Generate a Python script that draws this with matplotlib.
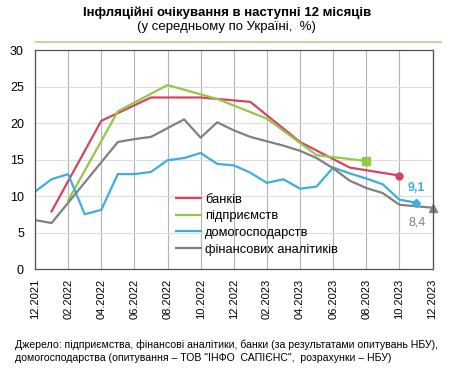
import numpy as np
import matplotlib
matplotlib.use('Agg')
import matplotlib.pyplot as plt
from matplotlib.lines import Line2D

plt.rcParams['font.family'] = ['Liberation Sans', 'DejaVu Sans']

# months counted from 12.2021 (0) to 12.2023 (24)
tick_pos = list(range(0, 25, 2))
tick_labels = ['12.2021', '02.2022', '04.2022', '06.2022', '08.2022', '10.2022', '12.2022',
               '02.2023', '04.2023', '06.2023', '08.2023', '10.2023', '12.2023']

banks_m = [1, 4, 7, 10, 13, 16, 19, 22]
banks = [7.9, 20.3, 23.5, 23.5, 22.9, 17.4, 13.9, 12.8]

firms_m = [2, 5, 8, 11, 14, 17, 20]
firms = [9.4, 21.6, 25.2, 23.3, 20.6, 15.6, 14.8]

house_m = list(range(0, 24))
house = [10.6, 12.3, 13.0, 7.5, 8.1, 13.0, 13.0, 13.3, 14.9, 15.2, 15.9, 14.4,
         14.2, 13.2, 11.8, 12.3, 11.0, 11.3, 13.9, 13.1, 12.4, 11.6, 9.5, 9.1]

anal_m = [0, 1] + list(range(5, 25))
anal = [6.7, 6.3, 17.4, 17.8, 18.1, 19.3, 20.5, 18.0, 20.1, 19.0, 18.1, 17.5,
        16.9, 16.2, 15.2, 13.8, 12.1, 11.1, 10.4, 8.8, 8.6, 8.4]

c_red = '#d6455f'
c_green = '#92c84c'
c_blue = '#3eaede'
c_gray = '#808080'

fig = plt.figure(figsize=(4.59, 3.68), dpi=100)
ax = fig.add_axes([0.0763, 0.269, 0.866, 0.595])

lw = 1.6
ax.plot(banks_m, banks, color=c_red, lw=lw, label='банків')
ax.plot(firms_m, firms, color=c_green, lw=lw, label='підприємств')
ax.plot(house_m, house, color=c_blue, lw=lw, label='домогосподарств')
ax.plot(anal_m, anal, color=c_gray, lw=lw, label='фінансових аналітиків')

ax.plot(banks_m[-1], banks[-1], 'o', color=c_red, ms=5)
ax.plot(firms_m[-1], firms[-1], 's', color=c_green, ms=6)
ax.plot(house_m[-1], house[-1], 'D', color=c_blue, ms=4)
ax.plot(anal_m[-1], anal[-1], '^', color=c_gray, ms=6, clip_on=False)

ax.annotate('9,1', (house_m[-1], house[-1]), xytext=(0, 10.5), textcoords='offset points',
            ha='center', va='center', color=c_blue, fontsize=9, fontweight='bold')
ax.annotate('8,4', (anal_m[-1], anal[-1]), xytext=(-11, -11), textcoords='offset points',
            ha='center', va='center', color=c_gray, fontsize=9)

ax.set_xlim(0, 24)
ax.set_ylim(0, 30)
ax.set_yticks(range(0, 31, 5))
ax.set_xticks(tick_pos)
ax.set_xticklabels(tick_labels, rotation=90)
ax.tick_params(axis='x', length=0, pad=7, labelsize=8)
ax.tick_params(axis='y', length=0, pad=8, labelsize=9)

for x in tick_pos:
    ax.axvline(x, color='#b3b3b3', lw=0.8, zorder=0)
for y in range(5, 30, 5):
    ax.axhline(y, color='#dcdcdc', lw=0.8, zorder=0)
for s in ax.spines.values():
    s.set_color('#505050')
    s.set_linewidth(0.9)

ax.legend(loc='upper left', bbox_to_anchor=(0.355, 0.345), frameon=False, fontsize=9.3,
          handlelength=1.95, handletextpad=0.3, labelspacing=0.36, borderpad=0, borderaxespad=0)

fig.text(0.494, 0.964, 'Інфляційні очікування в наступні 12 місяців', ha='center', va='center',
         fontsize=9.5, fontweight='bold')
fig.text(0.494, 0.927, '(у середньому по Україні,  %)', ha='center', va='center', fontsize=9.5)
fig.add_artist(Line2D([0.079, 0.96], [0.887, 0.887], color='#c4d89f', lw=1.5))

fig.text(0.033, 0.0625, 'Джерело: підприємства, фінансові аналітики, банки (за результатами опитувань НБУ),',
         ha='left', va='center', fontsize=7.6)
fig.text(0.033, 0.028, 'домогосподарства (опитування – ТОВ "ІНФО  САПІЄНС",  розрахунки – НБУ)',
         ha='left', va='center', fontsize=7.6)

fig.savefig('out.png', dpi=100)
